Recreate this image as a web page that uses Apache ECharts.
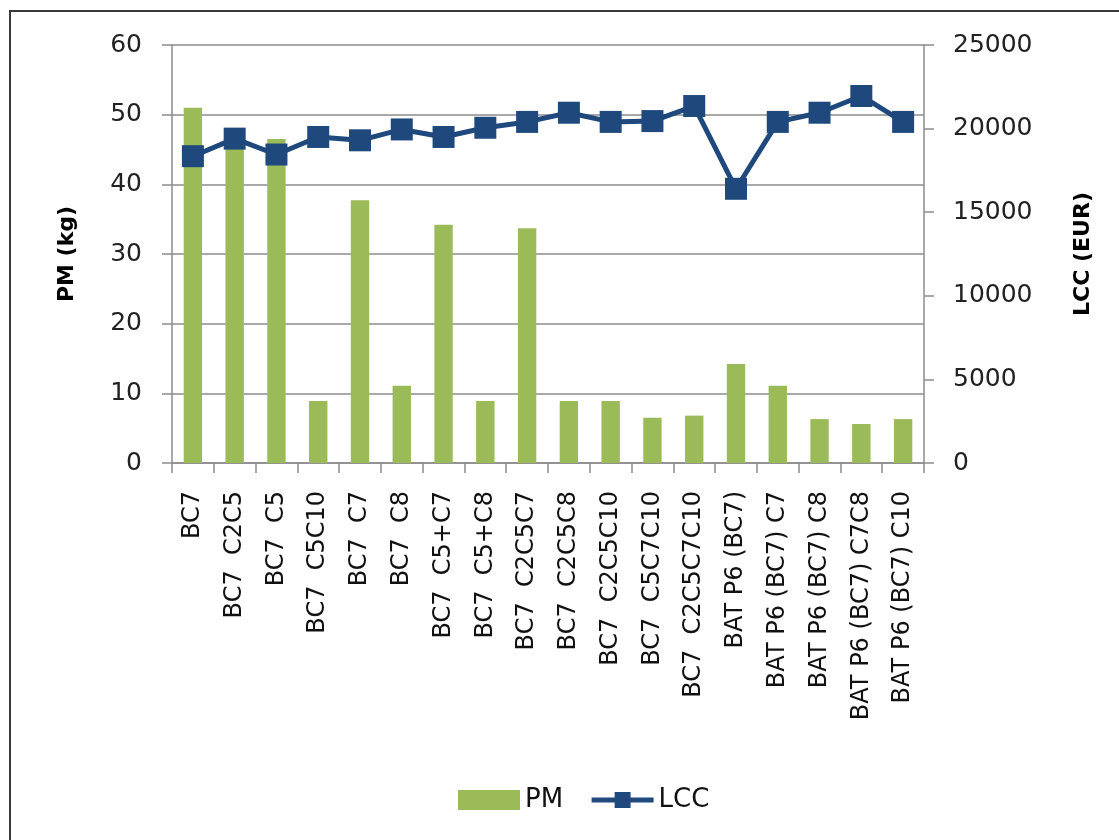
<!DOCTYPE html>
<html>
<head>
<meta charset="utf-8">
<script src="https://cdn.jsdelivr.net/npm/echarts@6/dist/echarts.min.js"></script>
<style>
html,body{margin:0;padding:0;background:#fff;overflow:hidden}
#frame{position:absolute;left:9px;top:10px;width:1200px;height:900px;border-left:2px solid #3a3a3a;border-top:2px solid #3a3a3a}
#chart{position:absolute;left:0;top:0;width:1119px;height:840px}
</style>
</head>
<body>
<div id="frame"></div>
<div id="chart"></div>
<script>
// categories on the x axis
var categories = ['BC7', 'BC7  C2C5', 'BC7  C5', 'BC7  C5C10', 'BC7  C7', 'BC7  C8',
    'BC7  C5+C7', 'BC7  C5+C8', 'BC7  C2C5C7', 'BC7  C2C5C8', 'BC7  C2C5C10',
    'BC7  C5C7C10', 'BC7  C2C5C7C10', 'BAT P6 (BC7)', 'BAT P6 (BC7) C7',
    'BAT P6 (BC7) C8', 'BAT P6 (BC7) C7C8', 'BAT P6 (BC7) C10'];
// PM (kg), bars, left axis
var pmValues = [51.0, 46.8, 46.5, 8.9, 37.7, 11.1, 34.2, 8.9, 33.7, 8.9, 8.9, 6.5, 6.8, 14.2, 11.1, 6.3, 5.6, 6.3];
// LCC (EUR), line, right axis
var lccValues = [18350, 19400, 18450, 19500, 19300, 19950, 19500, 20050, 20400, 20950, 20400, 20450, 21350, 16400, 20400, 20950, 21950, 20400];

var font = 'DejaVu Sans';
var gray = '#8c8c8c';

var myChart = echarts.init(document.getElementById('chart'));
var option = {
    animation: false,
    textStyle: { fontFamily: font },
    grid: { left: 172, right: 195, top: 45, bottom: 377, containLabel: false },
    legend: {
        left: 453,
        top: 782,
        itemWidth: 62,
        itemHeight: 20,
        itemGap: 26,
        lineStyle: { width: 5 },
        textStyle: { fontSize: 26, color: '#111', fontFamily: font },
        data: [
            { name: 'PM', icon: 'rect' },
            { name: 'LCC' }
        ]
    },
    xAxis: {
        type: 'category',
        data: categories,
        boundaryGap: true,
        axisLine: { lineStyle: { color: gray, width: 1.5 } },
        axisTick: { show: true, length: 10, lineStyle: { color: gray, width: 1.5 } },
        axisLabel: { interval: 0, rotate: 90, fontSize: 24, margin: 28, color: '#111', fontFamily: font }
    },
    yAxis: [
        {
            type: 'value',
            min: 0, max: 60, interval: 10,
            name: 'PM (kg)',
            nameLocation: 'middle',
            nameGap: 94,
            nameRotate: 90,
            nameTextStyle: { fontSize: 22, fontWeight: 'bold', color: '#000', fontFamily: font },
            axisLine: { show: true, lineStyle: { color: gray, width: 1.5 } },
            axisTick: { show: true, length: 10, lineStyle: { color: gray, width: 1.5 } },
            axisLabel: { fontSize: 25, margin: 30, color: '#222', fontFamily: font },
            splitLine: { show: true, lineStyle: { color: gray, width: 1.5 } }
        },
        {
            type: 'value',
            min: 0, max: 25000, interval: 5000,
            name: 'LCC (EUR)',
            nameLocation: 'middle',
            nameGap: 148,
            nameRotate: 90,
            nameTextStyle: { fontSize: 22, fontWeight: 'bold', color: '#000', fontFamily: font },
            axisLine: { show: true, lineStyle: { color: gray, width: 1.5 } },
            axisTick: { show: true, length: 10, lineStyle: { color: gray, width: 1.5 } },
            axisLabel: {
                fontSize: 25, margin: 29, color: '#222', fontFamily: font,
                formatter: function (v) { return String(v); }
            },
            splitLine: { show: false }
        }
    ],
    series: [
        {
            name: 'PM',
            type: 'bar',
            yAxisIndex: 0,
            barWidth: '44%',
            itemStyle: { color: '#9bbb59' },
            data: pmValues
        },
        {
            name: 'LCC',
            type: 'line',
            yAxisIndex: 1,
            symbol: 'rect',
            symbolSize: 22,
            z: 5,
            lineStyle: { color: '#1f497d', width: 5 },
            itemStyle: { color: '#1f497d' },
            data: lccValues
        }
    ]
};
myChart.setOption(option);
</script>
</body>
</html>
